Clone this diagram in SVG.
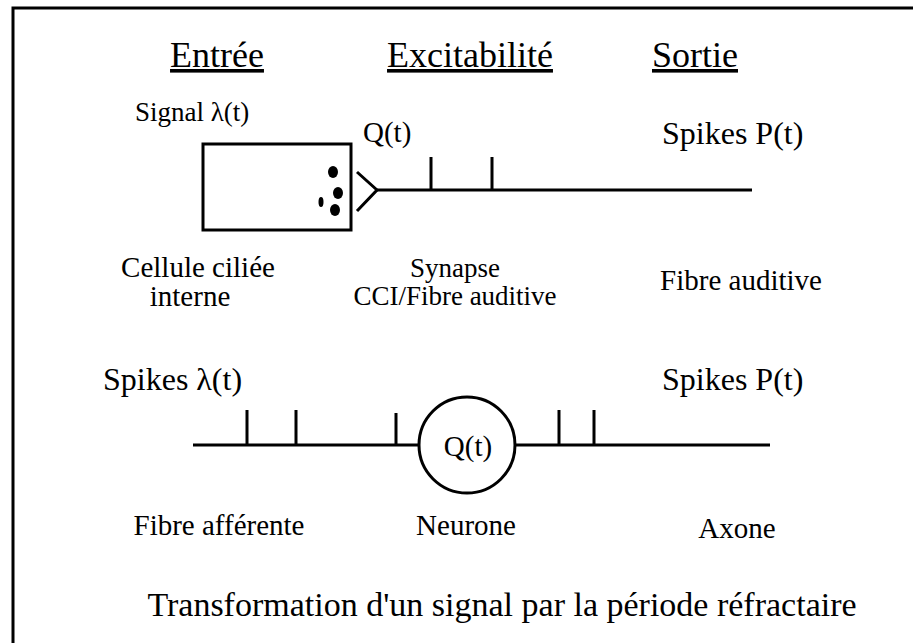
<svg xmlns="http://www.w3.org/2000/svg" width="913" height="643" viewBox="0 0 913 643">
<style>
text{font-family:"Liberation Serif","Times New Roman",serif;fill:#000}
.h{font-size:36px;text-decoration:underline}
.l{font-size:29px}
.m{font-size:27px}
.p{font-size:32px}
.t{font-size:34px}
.s{stroke:#000;stroke-width:3;fill:none}
</style>
<rect width="913" height="643" fill="#fff"/>
<g id="frame"><path class="s" d="M13,643 V8 H913" stroke-width="4"/></g>
<g id="headers">
<text class="h" x="217" y="67" text-anchor="middle">Entrée</text>
<text class="h" x="470" y="67" text-anchor="middle">Excitabilité</text>
<text class="h" x="695" y="67" text-anchor="middle">Sortie</text>
</g>
<g id="cell">
<text class="m" x="135" y="121">Signal λ(t)</text>
<rect class="s" x="203" y="144" width="148" height="86"/>
<ellipse cx="333" cy="172" rx="5" ry="6"/>
<ellipse cx="338" cy="193" rx="5" ry="6"/>
<ellipse cx="335" cy="210" rx="5" ry="6"/>
<ellipse cx="321" cy="202" rx="2.5" ry="5"/>
<text class="l" x="198" y="277" text-anchor="middle">Cellule ciliée</text>
<text class="l" x="190" y="306" text-anchor="middle">interne</text>
</g>
<g id="synapse">
<path class="s" d="M357,172 L377,190 L357,211"/>
<text class="l" x="363" y="142">Q(t)</text>
<text class="m" x="455" y="277" text-anchor="middle">Synapse</text>
<text class="m" x="455" y="305" text-anchor="middle">CCI/Fibre auditive</text>
</g>
<g id="fibre">
<text class="p" x="662" y="144">Spikes P(t)</text>
<text class="l" x="741" y="290" text-anchor="middle">Fibre auditive</text>
</g>
<g id="neurone">
<circle class="s" cx="467" cy="445" r="48"/>
<text class="l" x="468" y="456" text-anchor="middle">Q(t)</text>
<text class="l" x="466" y="535" text-anchor="middle">Neurone</text>
</g>
<g id="afferent">
<text class="p" x="103" y="390">Spikes λ(t)</text>
<text class="l" x="219" y="535" text-anchor="middle">Fibre afférente</text>
</g>
<g id="axone">
<text class="p" x="662" y="390">Spikes P(t)</text>
<text class="l" x="737" y="538" text-anchor="middle">Axone</text>
</g>
<g id="connectors">
<path class="s" d="M377,190 H752 M431,157 V190 M492,157 V190"/>
<path class="s" d="M193,445 H419 M247,410 V445 M296,410 V445 M396,413 V445 M515,445 H770 M559,410 V445 M594,410 V445"/>
</g>
<text class="t" x="502" y="616" text-anchor="middle">Transformation d'un signal par la période réfractaire</text>
</svg>
